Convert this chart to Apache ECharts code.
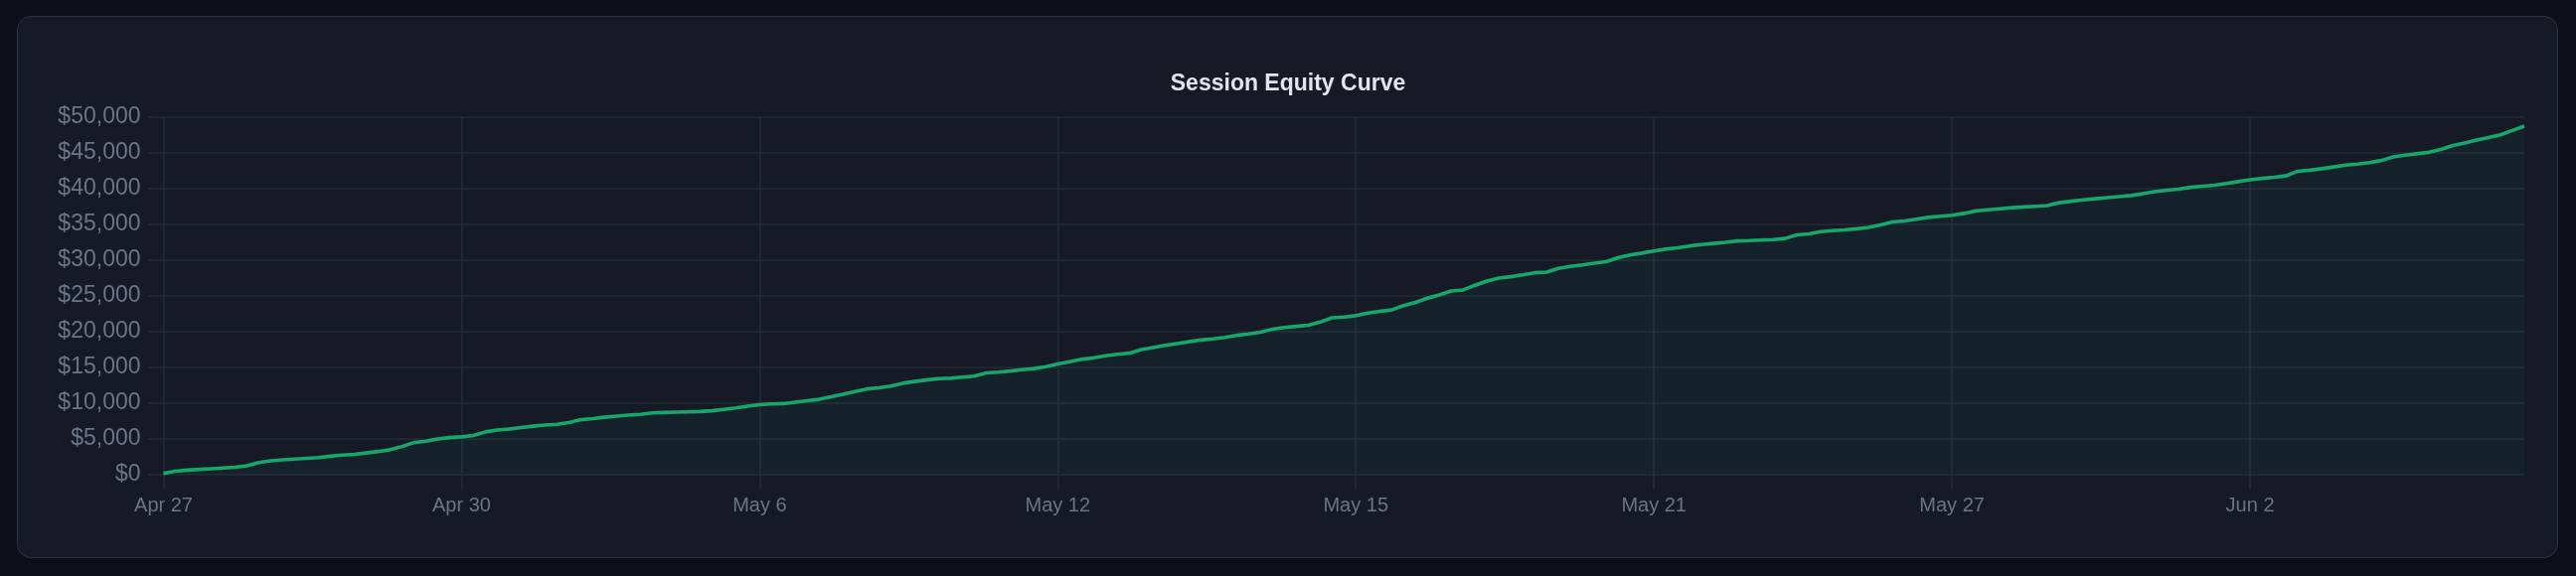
<!DOCTYPE html>
<html>
<head>
<meta charset="utf-8">
<script src="https://cdn.jsdelivr.net/npm/echarts@6/dist/echarts.min.js"></script>
<style>
  html, body { margin: 0; padding: 0; width: 2592px; height: 580px; background: #0b0f1a; overflow: hidden; }
  #card { position: absolute; left: 17px; top: 16px; width: 2555px; height: 544px; background: #161a27; border: 1.5px solid #2d3242; border-radius: 14px; }
  #chart { position: absolute; left: 0; top: 0; width: 2592px; height: 580px; }
</style>
</head>
<body>
<div id="card"></div>
<div id="chart"></div>
<script>
const chartTitle = 'Session Equity Curve';
const tickLabels = ['Apr 27', 'Apr 30', 'May 6', 'May 12', 'May 15', 'May 21', 'May 27', 'Jun 2'];
const labelEvery = 25;
const yTicks = { min: 0, max: 50000, interval: 5000 };
const equity = [
  150, 450, 600, 700, 800, 900, 1000, 1200, 1650, 1900,
  2050, 2150, 2250, 2350, 2550, 2700, 2800, 3000, 3200, 3450,
  3900, 4450, 4650, 4950, 5150, 5250, 5450, 5950, 6200, 6350,
  6550, 6750, 6900, 7000, 7250, 7650, 7800, 8000, 8150, 8300,
  8400, 8600, 8650, 8700, 8750, 8800, 8900, 9100, 9300, 9550,
  9750, 9850, 9900, 10100, 10300, 10500, 10850, 11200, 11600, 11950,
  12100, 12350, 12750, 13000, 13200, 13400, 13450, 13600, 13750, 14200,
  14300, 14450, 14650, 14800, 15050, 15450, 15750, 16100, 16300, 16600,
  16800, 16950, 17450, 17750, 18050, 18300, 18550, 18800, 18950, 19150,
  19450, 19650, 19900, 20300, 20550, 20700, 20850, 21300, 21900, 22000,
  22200, 22550, 22800, 23000, 23600, 24050, 24650, 25100, 25650, 25800,
  26450, 27050, 27450, 27650, 27900, 28200, 28300, 28800, 29100, 29300,
  29550, 29750, 30300, 30700, 30950, 31250, 31500, 31700, 31950, 32150,
  32300, 32450, 32650, 32700, 32780, 32850, 33000, 33500, 33650, 33950,
  34100, 34200, 34350, 34550, 34900, 35300, 35450, 35700, 35950, 36100,
  36250, 36500, 36850, 37000, 37150, 37300, 37400, 37500, 37600, 38000,
  38200, 38400, 38550, 38700, 38850, 39000, 39250, 39550, 39750, 39900,
  40150, 40300, 40450, 40700, 40950, 41200, 41400, 41550, 41750, 42400,
  42550, 42750, 43000, 43250, 43400, 43600, 43900, 44400, 44650, 44850,
  45050, 45450, 46000, 46350, 46750, 47100, 47500, 48100, 48700
];
const sessions = equity.map((_, i) => String(i));

const FONT = '"Liberation Sans", Arial, Helvetica, sans-serif';
const gridColor = '#262b38';
const labelColor = '#6b7585';
const lineColor = '#17a76b';

const chart = echarts.init(document.getElementById('chart'), null, { renderer: 'canvas' });
chart.setOption({
  animation: false,
  backgroundColor: 'transparent',
  title: {
    text: chartTitle,
    left: 'center',
    top: 68,
    textStyle: { color: '#e2e6ec', fontSize: 23, fontWeight: 'bold', fontFamily: FONT }
  },
  grid: { left: 164.5, right: 52, top: 117.7, bottom: 102.3, containLabel: false, outerBoundsMode: 'none' },
  xAxis: {
    type: 'category',
    data: sessions,
    boundaryGap: false,
    axisLine: { show: false },
    axisTick: { show: true, interval: labelEvery - 1, length: 15, lineStyle: { color: gridColor, width: 1.5 } },
    splitLine: { show: true, interval: labelEvery - 1, lineStyle: { color: gridColor, width: 1.5 } },
    axisLabel: {
      interval: labelEvery - 1,
      margin: 22,
      color: labelColor,
      fontSize: 20,
      fontFamily: FONT,
      formatter: (v, idx) => (idx % labelEvery === 0 ? (tickLabels[idx / labelEvery] || '') : '')
    }
  },
  yAxis: {
    type: 'value',
    min: yTicks.min,
    max: yTicks.max,
    interval: yTicks.interval,
    axisLine: { show: false },
    axisTick: { show: true, length: 15, lineStyle: { color: gridColor, width: 1.5 } },
    splitLine: { show: true, lineStyle: { color: gridColor, width: 1.5 } },
    axisLabel: {
      margin: 23,
      color: labelColor,
      fontSize: 23,
      fontFamily: FONT,
      formatter: v => '$' + v.toLocaleString('en-US')
    }
  },
  series: [{
    type: 'line',
    data: equity,
    symbol: 'none',
    lineStyle: { color: lineColor, width: 3.6 },
    itemStyle: { color: lineColor },
    areaStyle: { color: 'rgba(22,162,106,0.09)' }
  }]
});
</script>
</body>
</html>
